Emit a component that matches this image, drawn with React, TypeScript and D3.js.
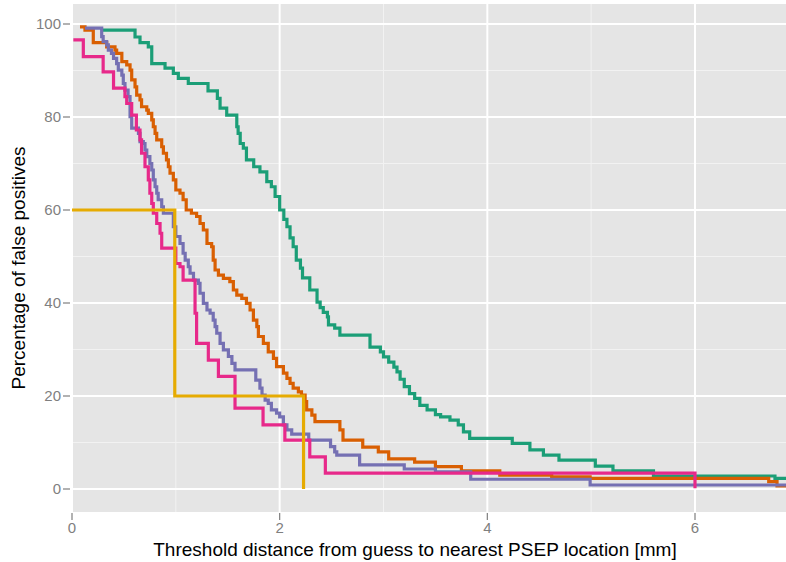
import React from 'react'
import * as d3 from 'd3'

const W = 786
const H = 562

const xTicks = [0, 2, 4, 6]
const xMinor = [1, 3, 5, 7]
const yTicks = [0, 20, 40, 60, 80, 100]
const yMinor = [10, 30, 50, 70, 90]

// threshold (mm) where each step starts, and % false positives after it
const greenX = [0.286, 0.607, 0.655, 0.735, 0.768, 0.896, 0.976, 1.024, 1.12, 1.31, 1.4, 1.426, 1.49, 1.587, 1.6, 1.62, 1.65, 1.68, 1.75, 1.81, 1.876, 1.92, 1.956, 2.0, 2.04, 2.07, 2.1, 2.13, 2.16, 2.2, 2.22, 2.29, 2.36, 2.39, 2.42, 2.46, 2.47, 2.53, 2.58, 2.87, 2.97, 3.0, 3.05, 3.1, 3.13, 3.16, 3.2, 3.25, 3.3, 3.35, 3.42, 3.5, 3.55, 3.64, 3.72, 3.77, 3.83, 4.24, 4.41, 4.54, 4.69, 5.04, 5.21, 5.6, 6.77, 7]
const greenY = [98.7, 97.2, 96.0, 95.1, 91.5, 90.5, 89.4, 88.3, 87.2, 85.6, 84.0, 81.9, 80.4, 77.9, 76.5, 74.3, 73.3, 70.8, 69.3, 68.2, 66.1, 65.0, 62.9, 60.0, 58.0, 56.4, 54.0, 52.1, 49.2, 47.5, 45.4, 42.8, 40.2, 39.0, 38.0, 37.0, 35.3, 34.6, 33.1, 30.5, 29.5, 28.4, 27.3, 26.2, 25.2, 23.6, 22.0, 20.5, 19.5, 18.0, 17.0, 16.0, 15.5, 14.8, 13.8, 12.3, 10.9, 9.8, 8.4, 7.3, 6.2, 4.9, 3.9, 2.8, 2.3, 2.3]

const orangeX = [0.077, 0.125, 0.205, 0.334, 0.414, 0.43, 0.48, 0.527, 0.559, 0.575, 0.607, 0.623, 0.655, 0.67, 0.72, 0.735, 0.768, 0.783, 0.8, 0.816, 0.864, 0.88, 0.91, 0.928, 0.944, 0.976, 1.0, 1.04, 1.07, 1.1, 1.15, 1.2, 1.233, 1.265, 1.3, 1.345, 1.36, 1.378, 1.41, 1.458, 1.52, 1.554, 1.587, 1.635, 1.68, 1.715, 1.747, 1.78, 1.795, 1.843, 1.89, 1.94, 1.97, 2.036, 2.07, 2.1, 2.13, 2.18, 2.21, 2.245, 2.26, 2.31, 2.34, 2.58, 2.61, 2.8, 2.95, 3.05, 3.3, 3.5, 3.75, 4.12, 4.62, 4.99, 6.71, 6.79, 7]
const orangeY = [99.4, 98.7, 96.0, 95.1, 94.4, 93.7, 91.9, 91.2, 90.1, 88.0, 86.5, 84.7, 83.7, 82.2, 81.5, 80.8, 79.4, 77.9, 76.5, 75.1, 73.6, 72.2, 70.8, 69.3, 67.9, 66.5, 64.3, 63.6, 62.2, 60.0, 59.3, 58.6, 57.1, 55.7, 52.8, 52.1, 49.2, 47.1, 46.0, 45.3, 44.6, 42.8, 41.7, 41.0, 39.9, 38.5, 36.3, 34.9, 32.8, 31.3, 29.5, 28.1, 26.3, 24.9, 23.8, 22.7, 21.7, 20.9, 20.2, 18.8, 17.0, 15.9, 14.5, 12.7, 10.5, 9.0, 8.0, 6.5, 5.8, 4.8, 3.9, 3.0, 2.6, 2.3, 1.6, 0.65, 0.65]

const purpleX = [0.125, 0.286, 0.3, 0.334, 0.35, 0.38, 0.4, 0.43, 0.446, 0.48, 0.494, 0.51, 0.54, 0.559, 0.575, 0.64, 0.655, 0.687, 0.703, 0.72, 0.75, 0.768, 0.783, 0.8, 0.816, 0.83, 0.864, 0.88, 0.976, 1.0, 1.04, 1.07, 1.09, 1.12, 1.137, 1.17, 1.217, 1.233, 1.265, 1.3, 1.33, 1.36, 1.378, 1.394, 1.426, 1.458, 1.506, 1.54, 1.57, 1.77, 1.81, 1.83, 1.86, 1.89, 1.92, 1.97, 2.0, 2.036, 2.07, 2.116, 2.28, 2.49, 2.53, 2.55, 2.77, 3.2, 3.5, 3.84, 4.99, 7]
const purpleY = [99.1, 97.3, 96.2, 95.5, 94.4, 93.7, 92.6, 91.5, 90.1, 89.0, 87.2, 85.8, 84.4, 80.1, 77.6, 76.5, 74.7, 74.3, 72.9, 71.5, 70.0, 68.6, 66.5, 65.0, 63.6, 62.2, 60.7, 59.3, 56.4, 54.3, 52.8, 50.7, 49.2, 47.8, 46.4, 44.9, 44.2, 42.1, 39.9, 38.5, 37.8, 36.3, 34.9, 33.5, 31.3, 29.9, 28.5, 27.0, 25.6, 23.4, 21.7, 20.2, 19.1, 18.4, 17.0, 16.3, 15.5, 13.8, 12.7, 11.8, 10.5, 9.1, 8.0, 7.3, 5.2, 4.3, 3.7, 2.1, 0.86, 0.86]

const pinkX = [0.013, 0.109, 0.3, 0.4, 0.51, 0.527, 0.575, 0.62, 0.655, 0.67, 0.703, 0.735, 0.75, 0.768, 0.783, 0.816, 0.848, 0.864, 1.0, 1.04, 1.07, 1.185, 1.2, 1.313, 1.41, 1.57, 1.84, 2.05, 2.29, 2.44, 6.0]
const pinkY = [96.6, 93.0, 89.7, 86.2, 84.4, 82.9, 80.4, 77.2, 75.1, 72.2, 69.3, 66.5, 63.6, 61.4, 59.3, 57.1, 55.0, 51.8, 48.5, 47.8, 44.9, 37.8, 31.3, 27.7, 24.2, 17.4, 13.8, 10.5, 6.9, 3.4, 0.15]

const yellowX = [0, 0.99, 2.23]
const yellowY = [60, 20, 0]

const series = [
  { name: 'green', color: '#1B9E77', xs: greenX, ys: greenY },
  { name: 'orange', color: '#D95F02', xs: orangeX, ys: orangeY },
  { name: 'purple', color: '#7570B3', xs: purpleX, ys: purpleY },
  { name: 'pink', color: '#E7298A', xs: pinkX, ys: pinkY },
  { name: 'yellow', color: '#E6AB02', xs: yellowX, ys: yellowY },
]

export default function App() {
  const panel = { left: 72, top: 4, right: W, bottom: 512 }
  const x = d3.scaleLinear().domain([0, 6]).range([72, 695])
  const y = d3.scaleLinear().domain([0, 100]).range([489, 24])

  const line = d3
    .line<[number, number]>()
    .x((d) => x(d[0]))
    .y((d) => y(d[1]))
    .curve(d3.curveStepAfter)

  const font = '"Liberation Sans", Arial, sans-serif'

  return (
    <svg width={W} height={H} style={{ position: 'absolute', left: 0, top: 0 }} fontFamily={font}>
      <rect width={W} height={H} fill="#ffffff" />
      <defs>
        <clipPath id="panel-clip">
          <rect x={panel.left} y={panel.top} width={panel.right - panel.left} height={panel.bottom - panel.top} />
        </clipPath>
      </defs>
      <rect x={panel.left} y={panel.top} width={panel.right - panel.left} height={panel.bottom - panel.top} fill="#E5E5E5" />
      <g clipPath="url(#panel-clip)">
        {xMinor.map((t) => (
          <line key={'xm' + t} x1={x(t)} x2={x(t)} y1={panel.top} y2={panel.bottom} stroke="#F2F2F2" strokeWidth={1} />
        ))}
        {yMinor.map((t) => (
          <line key={'ym' + t} x1={panel.left} x2={panel.right} y1={y(t)} y2={y(t)} stroke="#F2F2F2" strokeWidth={1} />
        ))}
        {xTicks.map((t) => (
          <line key={'xg' + t} x1={x(t)} x2={x(t)} y1={panel.top} y2={panel.bottom} stroke="#ffffff" strokeWidth={2} />
        ))}
        {yTicks.map((t) => (
          <line key={'yg' + t} x1={panel.left} x2={panel.right} y1={y(t)} y2={y(t)} stroke="#ffffff" strokeWidth={2} />
        ))}
        {series.map((s) => (
          <path
            key={s.name}
            d={line(s.xs.map((v, i) => [v, s.ys[i]] as [number, number])) || ''}
            fill="none"
            stroke={s.color}
            strokeWidth={3.2}
          />
        ))}
      </g>
      {/* axes */}
      {yTicks.map((t) => (
        <g key={'yt' + t}>
          <line x1={63} x2={70} y1={y(t)} y2={y(t)} stroke="#7F7F7F" strokeWidth={1.2} />
          <text x={61} y={y(t)} dy="0.35em" textAnchor="end" fontSize={15} fill="#7F7F7F">
            {t}
          </text>
        </g>
      ))}
      {xTicks.map((t) => (
        <g key={'xt' + t}>
          <line x1={x(t)} x2={x(t)} y1={513} y2={520} stroke="#7F7F7F" strokeWidth={1.2} />
          <text x={x(t)} y={533} textAnchor="middle" fontSize={15} fill="#7F7F7F">
            {t}
          </text>
        </g>
      ))}
      <text x={415} y={556} textAnchor="middle" fontSize={19} fill="#000">
        Threshold distance from guess to nearest PSEP location [mm]
      </text>
      <text transform={`translate(25,${(panel.top + panel.bottom) / 2 + 10}) rotate(-90)`} textAnchor="middle" fontSize={19} fill="#000">
        Percentage of false positives
      </text>
    </svg>
  )
}
